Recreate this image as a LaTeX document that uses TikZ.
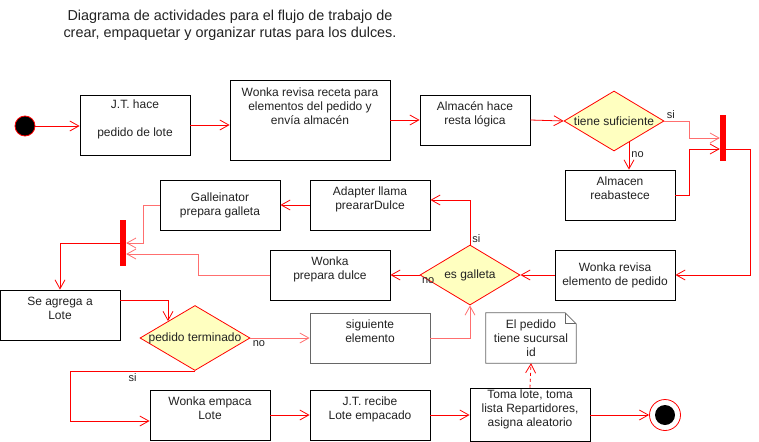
\documentclass[tikz,border=0pt]{standalone}
\usepackage{fontspec}
\setmainfont{Liberation Sans}
\usetikzlibrary{arrows.meta,positioning,calc,shapes.geometric}
\definecolor{decfill}{HTML}{FFFFC0}
\definecolor{flowred}{HTML}{FF0000}
\definecolor{flowpink}{HTML}{FF6F6F}
\definecolor{notegray}{HTML}{666666}
\definecolor{txt}{HTML}{222222}

\begin{document}
\begin{tikzpicture}[
    x=1pt, y=-1pt,
    font=\fontsize{12}{14}\selectfont,
    every node/.style={text=txt},
    activity/.style={rectangle, draw=black, fill=white, line width=0.8pt, minimum width=120, minimum height=50, align=center, inner sep=2pt},
    raised/.style={text depth=#1},
    raised/.default=13pt,
    decision/.style={diamond, draw=flowred, fill=decfill, line width=0.8pt, minimum width=100, minimum height=60, inner sep=0pt},
    syncbar/.style={rectangle, fill=flowred, minimum width=6, minimum height=46, inner sep=0pt},
    initial/.style={circle, draw=flowred, fill=black, line width=0.8pt, minimum size=20, inner sep=0pt},
    final/.style={circle, draw=flowred, fill=white, line width=0.8pt, minimum size=31, inner sep=0pt, path picture={\fill[black] (path picture bounding box.center) circle (10pt);}},
    arrow/.style={-{Straight Barb[length=9pt,width=10pt]}, draw=flowred, line width=0.8pt},
    softarrow/.style={arrow, draw=flowpink},
    guard/.style={font=\fontsize{11}{13}\selectfont, inner sep=2pt}
]
\useasboundingbox (0,0) rectangle (759,441);

\node[font=\fontsize{14.4}{17}\selectfont, align=center] (title) at (230,25) {Diagrama de actividades para el flujo de trabajo de\\crear, empaquetar y organizar rutas para los dulces.};

% upper row
\node[initial] (start) at (25,126) {};
\node[activity, minimum width=110, minimum height=60, raised] (jtpedido) at (135,125) {J.T. hace\\\mbox{}\\pedido de lote};
\node[activity, minimum width=160, minimum height=80, raised=28pt] (receta) at (310,120) {Wonka revisa receta para\\elementos del pedido y\\envía almacén};
\node[activity, minimum width=110, raised] (resta) at (475,120) {Almacén hace\\resta lógica};
\node[decision, label=center:tiene suficiente] (suficiente) at (614,121) {};
\node[syncbar] (forkA) at (723,138) {};
\node[activity, minimum width=110, raised] (reabastece) at (620,195) {Almacen\\reabastece};

% middle rows
\node[activity] (revisaelem) at (615,275) {Wonka revisa\\elemento de pedido};
\node[decision, label=center:es galleta] (esgalleta) at (470,275) {};
\node[activity, raised] (adapter) at (370,205) {Adapter llama\\preararDulce};
\node[activity] (galleinator) at (220,205) {Galleinator\\prepara galleta};
\node[syncbar] (forkB) at (123,243) {};
\node[activity, raised] (dulce) at (330,275) {Wonka\\prepara dulce};
\node[activity, raised] (agrega) at (60,315) {Se agrega a\\Lote};
\node[decision, minimum width=110, minimum height=65, label=center:pedido terminado] (terminado) at (195,338) {};
\node[activity, draw=notegray, raised] (siguiente) at (370,338) {siguiente\\elemento};

% bottom row
\node[activity, raised] (empaca) at (210,415) {Wonka empaca\\Lote};
\node[activity, raised] (recibe) at (370,415) {J.T. recibe\\Lote empacado};
\node[activity, raised] (toma) at (530,415) {Toma lote, toma\\lista Repartidores,\\asigna aleatorio};
\node[final] (fin) at (665,415) {};

% note
\node[minimum width=90, minimum height=50, align=center] (sucursal) at (531,338) {El pedido\\tiene sucursal\\id};
\draw[draw=notegray, line width=0.8pt] (sucursal.south west) -- (sucursal.south east) -- ([yshift=-11pt]sucursal.north east) -- ([xshift=-11pt]sucursal.north east) -- (sucursal.north west) -- cycle;
\draw[draw=notegray, line width=0.8pt] ([xshift=-11pt]sucursal.north east) -- ([xshift=-11pt,yshift=-11pt]sucursal.north east) -- ([yshift=-11pt]sucursal.north east);

% flows
\draw[arrow] (start) -- (start -| jtpedido.west);
\draw[arrow] (jtpedido.east) -- (jtpedido.east -| receta.west);
\draw[arrow] (receta.east) -- (resta.west);
\draw[arrow] (resta.east) -- (suficiente.west);
\draw[softarrow] (suficiente.east) node[guard, above right] {si} -| ([xshift=-30pt]forkA.west) -- (forkA.west);
\draw[arrow] ([xshift=15pt,yshift=9pt]suficiente.south) -- ([xshift=15pt]suficiente.south |- reabastece.north) node[guard, pos=0.45, right] {no};
\draw[arrow] (reabastece.east) -| ([xshift=-30pt,yshift=-11pt]forkA.west) -- ([yshift=-11pt]forkA.west);
\draw[arrow] ([yshift=-11pt]forkA.east) -| ([xshift=75pt]revisaelem.east) -- (revisaelem.east);
\draw[arrow] (revisaelem.west) -- (esgalleta.east);
\draw[arrow] (esgalleta.north) node[guard, above right] {si} |- ([yshift=5pt]adapter.east);
\draw[arrow] (adapter.west) -- (galleinator.east);
\draw[softarrow] (galleinator.west) -| ([xshift=17pt]forkB.east) -- (forkB.east);
\draw[arrow] (esgalleta.west) node[guard, below right] {no} -- (dulce.east);
\draw[softarrow] (dulce.west) -| ([xshift=72pt,yshift=-11pt]forkB.east) -- ([yshift=-11pt]forkB.east);
\draw[arrow] (forkB.west) -| (agrega.north);
\draw[arrow] ([yshift=15pt]agrega.east) -| ([xshift=-27pt,yshift=-16pt]terminado.north);
\draw[softarrow] (terminado.east) node[guard, below right] {no} -- (siguiente.west);
\draw[softarrow] (siguiente.east) -| (esgalleta.south);
\draw[arrow] (terminado.south) -- ++(-125,0) node[guard, midway, below] {si} |- ([yshift=-6pt]empaca.west);
\draw[arrow] (empaca.east) -- (recibe.west);
\draw[arrow] (recibe.east) -- (toma.west);
\draw[arrow] (toma.east) -- (fin.west);
\draw[arrow, dashed] (toma.north) -- (sucursal.south);
\end{tikzpicture}
\end{document}
